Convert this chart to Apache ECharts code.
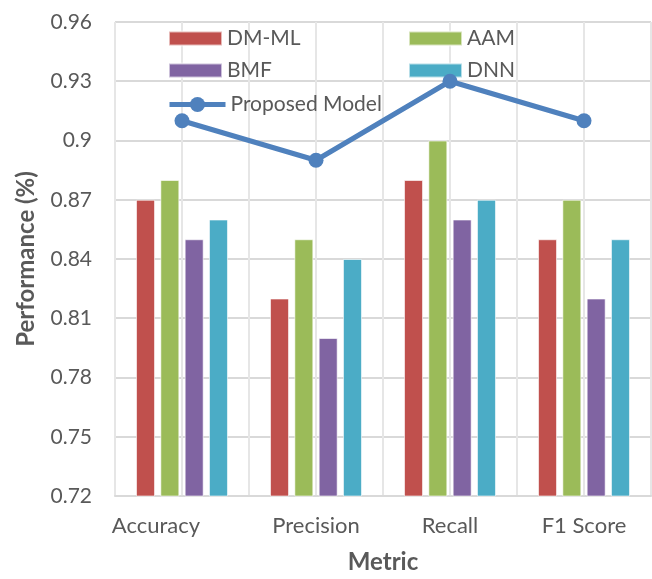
<!DOCTYPE html>
<html><head><meta charset="utf-8">
<script src="https://cdn.jsdelivr.net/npm/echarts@6/dist/echarts.min.js"></script>
<style>html,body{margin:0;padding:0;background:#fff}#c{width:652px;height:579px}</style>
</head><body><div id="c"></div>
<script>
const categories = ['Accuracy', 'Precision', 'Recall', 'F1 Score'];
const dmml = [0.87, 0.82, 0.88, 0.85];
const aam = [0.88, 0.85, 0.90, 0.87];
const bmf = [0.85, 0.80, 0.86, 0.82];
const dnn = [0.86, 0.84, 0.87, 0.85];
const proposed = [0.91, 0.89, 0.93, 0.91];
const yTicks = [0.72, 0.75, 0.78, 0.81, 0.84, 0.87, 0.9, 0.93, 0.96];

const FONT = 'Lato';
const TXT = '#595959';
const chart = echarts.init(document.getElementById('c'));
const barSeries = (name, data, color) => ({
  name, type: 'bar', data, barWidth: 19, barGap: '28%',
  itemStyle: { color, borderColor: 'rgba(255,255,255,0.6)', borderWidth: 1 }
});
const legendBase = (name, left, top, icon) => ({
  data: [name], left, top, icon, itemWidth: 53, itemHeight: 14, padding: 0,
  textStyle: { fontFamily: FONT, fontSize: 21, color: TXT },
  selectedMode: false
});
const catData = categories.map((c, i) => i === 0
  ? { value: c, textStyle: { padding: [0, 52, 0, 0] } }
  : c);
chart.setOption({
  animation: false,
  textStyle: { fontFamily: FONT },
  grid: { left: 115, right: 1, top: 22, bottom: 79 },
  legend: [
    legendBase('DM-ML', 168, 28, 'rect'),
    legendBase('AAM', 408, 28, 'rect'),
    legendBase('BMF', 168, 60, 'rect'),
    legendBase('DNN', 408, 60, 'rect'),
    Object.assign(legendBase('Proposed Model', 167, 94), { itemWidth: 56, itemHeight: 19,
      itemStyle: { color: '#4F81BD' }, lineStyle: { width: 5, color: '#4F81BD' } })
  ],
  xAxis: [{
    type: 'category', data: catData,
    axisLine: { lineStyle: { color: '#d9d9d9', width: 2 } },
    axisTick: { show: false },
    axisLabel: { fontFamily: FONT, fontSize: 22, color: TXT, margin: 19 },
    splitLine: { show: false },
    name: 'Metric', nameLocation: 'middle', nameGap: 54,
    nameTextStyle: { fontFamily: FONT, fontSize: 24, fontWeight: 'bold', color: TXT }
  }, {
    type: 'value', min: 0, max: 8, interval: 1, position: 'bottom',
    axisLine: { show: false }, axisTick: { show: false }, axisLabel: { show: false },
    splitLine: { show: true, lineStyle: { color: '#e6e6e6', width: 2 } }
  }],
  yAxis: {
    type: 'value', min: yTicks[0], max: yTicks[yTicks.length - 1], interval: 0.03,
    axisLine: { show: false }, axisTick: { show: false },
    axisLabel: { fontFamily: FONT, fontSize: 21, color: TXT, margin: 23,
      formatter: v => { const m = yTicks.find(t => Math.abs(t - v) < 1e-6); return m !== undefined ? String(m) : ''; } },
    splitLine: { lineStyle: { color: '#d9d9d9', width: 2 } },
    name: 'Performance (%)', nameLocation: 'middle', nameGap: 77,
    nameTextStyle: { fontFamily: FONT, fontSize: 24, fontWeight: 'bold', color: TXT }
  },
  series: [
    barSeries('DM-ML', dmml, '#C0504D'),
    barSeries('AAM', aam, '#9BBB59'),
    barSeries('BMF', bmf, '#8064A2'),
    barSeries('DNN', dnn, '#4BACC6'),
    { name: 'Proposed Model', type: 'line', data: proposed, symbol: 'circle', symbolSize: 15,
      lineStyle: { color: '#4F81BD', width: 5 }, itemStyle: { color: '#4F81BD' }, z: 5 }
  ]
});
</script></body></html>
